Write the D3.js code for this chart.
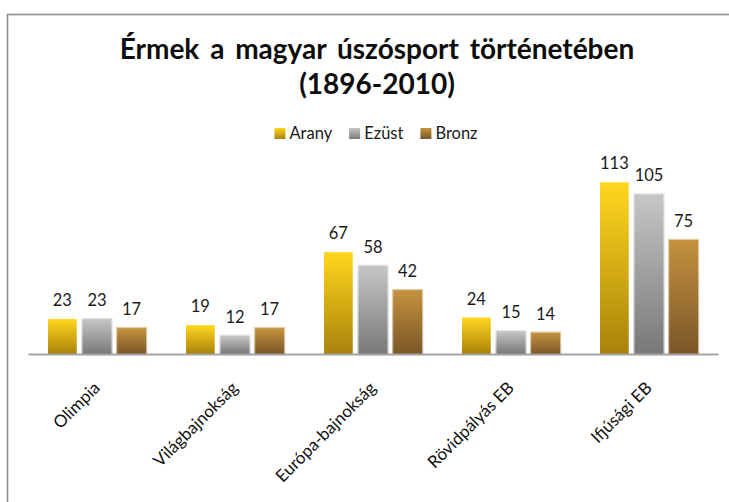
<!DOCTYPE html>
<html>
<head>
<meta charset="utf-8">
<script src="https://cdn.jsdelivr.net/npm/d3@7/dist/d3.min.js"></script>
<style>
  body { margin: 0; background: #fff; }
  svg { display: block; font-family: Lato, "Open Sans", sans-serif; }
</style>
</head>
<body>
<div id="wrapper"></div>
<script>
const TITLE_LINES = ["Érmek a magyar úszósport történetében", "(1896-2010)"];
const categories = ["Olimpia", "Világbajnokság", "Európa-bajnokság", "Rövidpályás EB", "Ifjúsági EB"];
const seriesNames = ["Arany", "Ezüst", "Bronz"];
const arany = [23, 19, 67, 24, 113];
const ezust = [23, 12, 58, 15, 105];
const bronz = [17, 17, 42, 14, 75];
const seriesValues = [arany, ezust, bronz];

// gradient stops per series (top, bottom)
const gradients = [
  ["#ffd71f", "#a9820a"],
  ["#c6c6c6", "#787878"],
  ["#c4923f", "#7a5627"]
];

const dimensions = {
  width: 729,
  height: 502,
  plot: { left: 28, right: 718, baseline: 354, top: 171.6 }
};

const wrapper = d3.select("#wrapper")
  .append("svg")
  .attr("width", dimensions.width)
  .attr("height", dimensions.height);

// chart frame (runs off the right / bottom edge like the screenshot)
wrapper.append("rect")
  .attr("x", 7.5)
  .attr("y", 14.5)
  .attr("width", 760)
  .attr("height", 520)
  .attr("fill", "#fff")
  .attr("stroke", "#8e8e8e")
  .attr("stroke-width", 1.6);

const defs = wrapper.append("defs");
gradients.forEach((g, i) => {
  const lg = defs.append("linearGradient")
    .attr("id", `grad${i}`)
    .attr("x1", 0).attr("y1", 0)
    .attr("x2", 0).attr("y2", 1);
  lg.append("stop").attr("offset", "0%").attr("stop-color", g[0]);
  lg.append("stop").attr("offset", "100%").attr("stop-color", g[1]);
});

// title
const title = wrapper.append("text")
  .attr("text-anchor", "middle")
  .attr("font-weight", 700)
  .attr("font-size", 28)
  .attr("word-spacing", 4)
  .attr("fill", "#0d0d0d");
title.selectAll("tspan")
  .data(TITLE_LINES)
  .join("tspan")
  .attr("x", 377)
  .attr("y", (d, i) => 59 + i * 35)
  .text(d => d);

// scales
const xScale = d3.scaleBand()
  .domain(categories)
  .range([dimensions.plot.left, dimensions.plot.right]);

const xInner = d3.scaleBand()
  .domain(seriesNames)
  .range([20, 118])
  .paddingInner(0.17);

const yScale = d3.scaleLinear()
  .domain([0, 120])
  .range([dimensions.plot.baseline, dimensions.plot.top]);

const bounds = wrapper.append("g");

const groups = bounds.selectAll("g.cat")
  .data(categories)
  .join("g")
  .attr("class", "cat")
  .attr("transform", d => `translate(${xScale(d)},0)`);

groups.selectAll("rect")
  .data((c, ci) => seriesNames.map((s, si) => ({ s, si, v: seriesValues[si][ci] })))
  .join("rect")
  .attr("x", d => xInner(d.s))
  .attr("y", d => yScale(d.v))
  .attr("width", xInner.bandwidth())
  .attr("height", d => yScale(0) - yScale(d.v))
  .attr("fill", d => `url(#grad${d.si})`)
  .attr("stroke", d => d.si === 0 ? "none" : `url(#grad${d.si})`)
  .attr("stroke-opacity", 0.45)
  .attr("stroke-width", 2.5);

groups.selectAll("text.val")
  .data((c, ci) => seriesNames.map((s, si) => ({ s, si, v: seriesValues[si][ci] })))
  .join("text")
  .attr("class", "val")
  .attr("x", d => xInner(d.s) + xInner.bandwidth() / 2)
  .attr("y", d => yScale(d.v) - 13)
  .attr("text-anchor", "middle")
  .attr("font-size", 16.5)
  .attr("fill", "#1a1a1a")
  .text(d => d.v);

// category axis
const xAxisGenerator = d3.axisBottom(xScale)
  .tickSize(0)
  .tickSizeOuter(0);

const xAxis = bounds.append("g")
  .attr("transform", `translate(0,${dimensions.plot.baseline})`)
  .call(xAxisGenerator);

xAxis.select(".domain")
  .attr("stroke", "#a3a3a3")
  .attr("stroke-width", 2);

xAxis.selectAll(".tick text")
  .attr("font-family", "Lato, 'Open Sans', sans-serif")
  .attr("font-size", 17)
  .attr("fill", "#111")
  .attr("text-anchor", "end")
  .attr("dy", 0)
  .attr("y", 0)
  .attr("transform", "translate(4,35) rotate(-45)");

// legend
const legend = wrapper.append("g");
const items = legend.selectAll("g")
  .data(seriesNames)
  .join("g");
items.append("rect")
  .attr("width", 11)
  .attr("height", 11)
  .attr("y", 128)
  .attr("fill", (d, i) => `url(#grad${i})`);
items.append("text")
  .attr("x", 15)
  .attr("y", 139)
  .attr("font-size", 16.5)
  .attr("fill", "#1a1a1a")
  .text(d => d);

let cursor = 0;
const positions = [];
items.each(function () {
  positions.push(cursor);
  const w = d3.select(this).select("text").node().getComputedTextLength();
  cursor += 15 + w + 17;
});
const totalWidth = cursor - 17;
const legendStart = 376 - totalWidth / 2;
items.attr("transform", (d, i) => `translate(${legendStart + positions[i]},0)`);
</script>
</body>
</html>
